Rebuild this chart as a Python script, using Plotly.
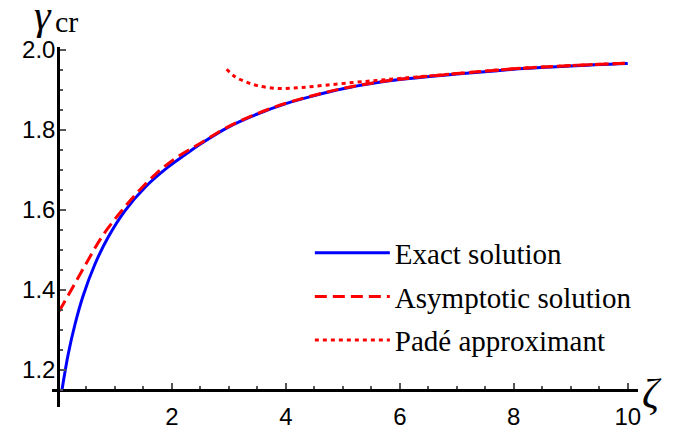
import plotly.graph_objects as go

# Exact solution
zeta_exact = [0.07, 0.18, 0.30, 0.44, 0.65, 0.88, 1.175, 1.53, 1.93, 2.23, 2.5, 3.0, 3.5,
              4.0, 4.5, 5.0, 5.5, 6.0, 7.0, 7.6, 8.0, 9.0, 10.0]
gamma_exact = [1.150, 1.240, 1.315, 1.385, 1.465, 1.532, 1.598, 1.657, 1.707, 1.738, 1.765,
               1.808, 1.840, 1.866, 1.886, 1.903, 1.916, 1.926, 1.940, 1.947, 1.952, 1.960, 1.966]

# Asymptotic solution
zeta_asym = [0.02, 0.30, 0.53, 0.77, 1.06, 1.35, 1.70, 2.05, 2.5, 3.0, 3.5, 4.0, 4.5, 5.0,
             5.5, 6.0, 7.0, 8.0, 9.0, 10.0]
gamma_asym = [1.347, 1.417, 1.475, 1.533, 1.588, 1.637, 1.688, 1.728, 1.767, 1.809, 1.841,
              1.867, 1.887, 1.904, 1.917, 1.927, 1.941, 1.953, 1.961, 1.967]

# Padé approximant
zeta_pade = [2.96, 3.1, 3.3, 3.5, 3.85, 4.25, 4.7, 5.2, 5.6, 6.0, 6.5, 7.0, 8.0, 9.0, 10.0]
gamma_pade = [1.952, 1.934, 1.920, 1.911, 1.904, 1.906, 1.912, 1.919, 1.924, 1.929, 1.935,
              1.941, 1.953, 1.961, 1.967]

x_ticks = [2, 4, 6, 8, 10]
x_tick_labels = ["2", "4", "6", "8", "10"]
y_ticks = [1.2, 1.4, 1.6, 1.8, 2.0]
y_tick_labels = ["1.2", "1.4", "1.6", "1.8", "2.0"]

x_minor = [i * 0.5 for i in range(1, 21) if (i * 0.5) % 2 != 0]
y_minor = [round(1.15 + i * 0.05, 2) for i in range(0, 18)]
y_minor = [v for v in y_minor if round(v * 100) % 20 != 0]

fig = go.Figure()
fig.add_trace(go.Scatter(x=zeta_exact, y=gamma_exact, mode="lines", name="Exact solution",
                         line=dict(color="#0000FF", width=3, shape="spline"),
                         legendgroup="a"))
fig.add_trace(go.Scatter(x=zeta_asym, y=gamma_asym, mode="lines", name="Asymptotic solution",
                         line=dict(color="#FF0000", width=3, dash="12px,6px", shape="spline"),
                         legendgroup="b"))
fig.add_trace(go.Scatter(x=zeta_pade, y=gamma_pade, mode="lines", name="Padé approximant",
                         line=dict(color="#FF0000", width=3, dash="4px,4px", shape="spline"),
                         legendgroup="c"))

tickfont = dict(family="Liberation Sans, Arial", size=24, color="black")
serif = "Liberation Serif, Times New Roman"

fig.update_layout(
    width=675, height=430,
    margin=dict(l=52, r=37, t=47, b=23, autoexpand=False),
    plot_bgcolor="white", paper_bgcolor="white",
    legend=dict(x=0.44, y=0.499, xanchor="left", yanchor="top",
                font=dict(family=serif, size=29, color="black"),
                bgcolor="rgba(0,0,0,0)", itemwidth=75, tracegroupgap=3,
                traceorder="grouped"),
    xaxis=dict(range=[-0.105, 10.18], anchor="free", position=0.0472, automargin=False,
               showline=True, linecolor="black", linewidth=2.5,
               showgrid=False, zeroline=False,
               tickmode="array", tickvals=x_ticks, ticktext=x_tick_labels,
               ticks="inside", ticklen=6, tickwidth=1.5, tickcolor="#555555",
               tickfont=tickfont, ticklabelstandoff=4,
               minor=dict(tickmode="array", tickvals=x_minor, ticks="inside",
                          ticklen=3.5, tickwidth=1.5, tickcolor="#555555")),
    yaxis=dict(range=[1.1075, 2.0075], anchor="free", position=0.0102, automargin=False,
               showline=True, linecolor="black", linewidth=2.5,
               showgrid=False, zeroline=False,
               tickmode="array", tickvals=y_ticks, ticktext=y_tick_labels,
               ticks="inside", ticklen=6, tickwidth=1.5, tickcolor="#555555",
               tickfont=tickfont, ticklabelstandoff=-3,
               minor=dict(tickmode="array", tickvals=y_minor, ticks="inside",
                          ticklen=3.5, tickwidth=1.5, tickcolor="#555555")),
    annotations=[
        dict(text="<i>γ</i>", xref="paper", yref="paper", x=-0.0154, y=1.088,
             xanchor="center", yanchor="middle", showarrow=False,
             font=dict(family=serif, size=42, color="black")),
        dict(text="cr", xref="paper", yref="paper", x=0.001, y=1.07,
             xanchor="left", yanchor="middle", showarrow=False,
             font=dict(family=serif, size=30, color="black")),
        dict(text="<i>ζ</i>", xref="paper", yref="paper", x=1.024, y=0.036,
             xanchor="center", yanchor="middle", showarrow=False,
             font=dict(family=serif, size=42, color="black")),
    ],
)

fig.write_html("out.html", config={"displayModeBar": False},
               post_script="document.body.style.margin='0px';")
